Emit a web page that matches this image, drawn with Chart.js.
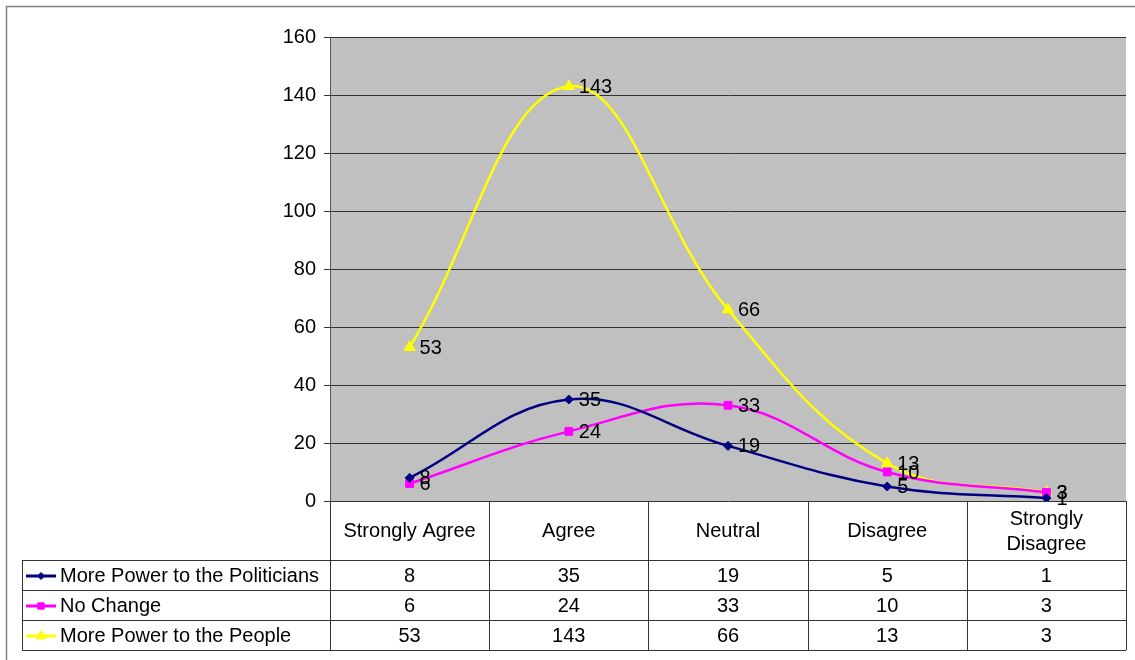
<!DOCTYPE html>
<html>
<head>
<meta charset="utf-8">
<script src="https://cdn.jsdelivr.net/npm/chart.js@4/dist/chart.umd.min.js"></script>
<style>
  html, body { margin: 0; padding: 0; background: #ffffff; }
  #wrap { width: 1135px; height: 660px; position: relative; }
</style>
</head>
<body>
<div id="wrap"><canvas id="c" width="1135" height="660"></canvas></div>
<script>
// Survey responses per answer category
const categories = ['Strongly Agree', 'Agree', 'Neutral', 'Disagree', 'Strongly Disagree'];
const categoryLines = [['Strongly Agree'], ['Agree'], ['Neutral'], ['Disagree'], ['Strongly', 'Disagree']];
const seriesNames = ['More Power to the Politicians', 'No Change', 'More Power to the People'];
const politicians = [8, 35, 19, 5, 1];
const noChange = [6, 24, 33, 10, 3];
const people = [53, 143, 66, 13, 3];
const yTicks = [0, 20, 40, 60, 80, 100, 120, 140, 160];

const FONT = '"Liberation Sans", Arial, sans-serif';
const FONT_SIZE = 20;
const styles = [
  { color: '#000080', marker: 'rectRot', radius: 4.5 },
  { color: '#FF00FF', marker: 'rect', radius: 5.5 },
  { color: '#FFFF00', marker: 'triangle', radius: 6.5 }
];
const seriesValues = [politicians, noChange, people];

// Gray plot background plus outer frame
const backdrop = {
  id: 'backdrop',
  beforeDraw(chart) {
    const { ctx, chartArea: a } = chart;
    ctx.save();
    ctx.fillStyle = '#ffffff';
    ctx.fillRect(0, 0, chart.width, chart.height);
    ctx.strokeStyle = '#808080';
    ctx.lineWidth = 1.5;
    ctx.beginPath();
    ctx.moveTo(6.5, chart.height);
    ctx.lineTo(6.5, 6.5);
    ctx.lineTo(chart.width, 6.5);
    ctx.stroke();
    ctx.fillStyle = '#C0C0C0';
    ctx.fillRect(a.left, a.top, a.right - a.left, a.bottom - a.top);
    ctx.restore();
  }
};

// Value labels beside each point
const valueLabels = {
  id: 'valueLabels',
  afterDatasetsDraw(chart) {
    const { ctx } = chart;
    ctx.save();
    ctx.font = FONT_SIZE + 'px ' + FONT;
    ctx.fillStyle = '#000000';
    ctx.textAlign = 'left';
    ctx.textBaseline = 'middle';
    chart.data.datasets.forEach((ds, i) => {
      chart.getDatasetMeta(i).data.forEach((pt, j) => {
        ctx.fillText(String(ds.data[j]), pt.x + 10, pt.y + 1);
      });
    });
    ctx.restore();
  }
};

// Data table under the plot, aligned to the category scale
const dataTable = {
  id: 'dataTable',
  afterDraw(chart) {
    const { ctx, chartArea: a } = chart;
    const xs = chart.scales.x;
    const n = categories.length;
    const colW = (a.right - a.left) / n;
    const headTop = a.bottom, headBottom = a.bottom + 59, rowH = 30;
    const legendLeft = 22;
    const tableBottom = headBottom + rowH * seriesNames.length;
    ctx.save();
    ctx.strokeStyle = '#333333';
    ctx.lineWidth = 1;
    ctx.beginPath();
    for (let k = 0; k <= n; k++) {
      const x = Math.round(a.left + colW * k) + 0.5;
      ctx.moveTo(x, headTop);
      ctx.lineTo(x, tableBottom);
    }
    ctx.moveTo(legendLeft + 0.5, headBottom);
    ctx.lineTo(legendLeft + 0.5, tableBottom);
    for (let r = 0; r <= seriesNames.length; r++) {
      const y = Math.round(headBottom + rowH * r) + 0.5;
      ctx.moveTo(legendLeft, y);
      ctx.lineTo(a.right, y);
    }
    ctx.stroke();

    ctx.font = FONT_SIZE + 'px ' + FONT;
    ctx.fillStyle = '#000000';
    ctx.textAlign = 'center';
    ctx.textBaseline = 'middle';
    categoryLines.forEach((lines, j) => {
      const cx = xs.getPixelForValue(j);
      const mid = (headTop + headBottom) / 2 + 1;
      lines.forEach((ln, l) => {
        ctx.fillText(ln, cx, mid + (l - (lines.length - 1) / 2) * 25);
      });
    });
    seriesValues.forEach((vals, r) => {
      const cy = headBottom + rowH * r + rowH / 2 + 1;
      vals.forEach((v, j) => ctx.fillText(String(v), xs.getPixelForValue(j), cy));
      // legend key
      const st = styles[r];
      ctx.strokeStyle = st.color;
      ctx.lineWidth = 3;
      ctx.beginPath();
      ctx.moveTo(26, cy);
      ctx.lineTo(56, cy);
      ctx.stroke();
      ctx.fillStyle = st.color;
      ctx.lineWidth = 1;
      Chart.helpers.drawPoint(ctx, { pointStyle: st.marker, radius: st.radius - 1, borderWidth: 1 }, 41, cy);
      ctx.fillStyle = '#000000';
      ctx.textAlign = 'left';
      ctx.fillText(seriesNames[r], 60, cy);
      ctx.textAlign = 'center';
    });
    ctx.restore();
  }
};

new Chart(document.getElementById('c'), {
  type: 'line',
  data: {
    labels: categories,
    datasets: seriesNames.map((name, i) => ({
      label: name,
      data: seriesValues[i],
      borderColor: styles[i].color,
      backgroundColor: styles[i].color,
      borderWidth: 2.5,
      pointStyle: styles[i].marker,
      pointRadius: styles[i].radius,
      pointBorderWidth: 1,
      tension: 0.4,
      fill: false
    }))
  },
  options: {
    responsive: false,
    animation: false,
    devicePixelRatio: 1,
    layout: { padding: { left: 0, top: 37, right: 9, bottom: 0 } },
    plugins: { legend: { display: false }, tooltip: { enabled: false } },
    scales: {
      x: {
        type: 'category',
        offset: true,
        grid: { display: false },
        border: { display: false },
        ticks: { display: false },
        afterFit(s) { s.height = 159; }
      },
      y: {
        min: 0,
        max: 160,
        afterBuildTicks(s) { s.ticks = yTicks.map(v => ({ value: v })); },
        afterFit(s) { s.width = 330; },
        grid: { color: '#333333', lineWidth: 1, tickLength: 6, drawTicks: true },
        border: { display: true, color: '#555555', width: 1 },
        ticks: { font: { family: FONT, size: FONT_SIZE }, color: '#000000', padding: 8 }
      }
    }
  },
  plugins: [backdrop, valueLabels, dataTable]
});
</script>
</body>
</html>
